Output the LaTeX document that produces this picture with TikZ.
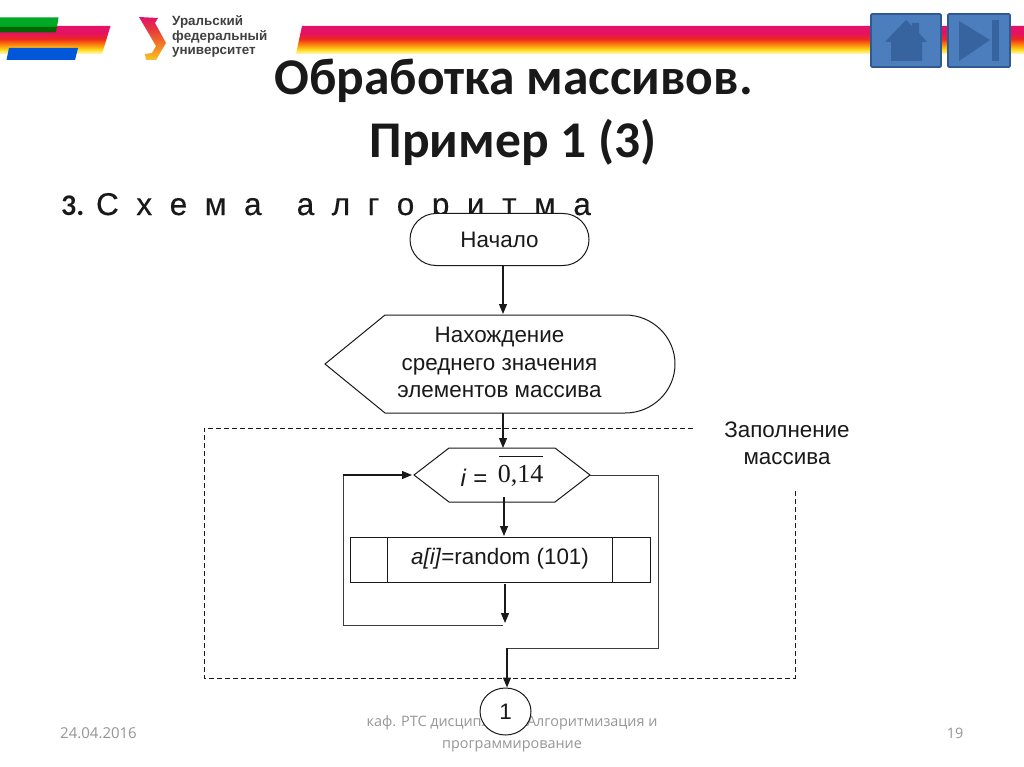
\documentclass[tikz,border=0pt]{standalone}
\usepackage{fontspec}
\setmainfont{Liberation Sans}
\newfontfamily\carl{Carlito}
\newfontfamily\opens{Open Sans}
\newfontfamily\tms{Liberation Serif}
\newfontfamily\spaced[LetterSpace=28,FakeBold=0.3]{Liberation Sans}
\usetikzlibrary{arrows.meta,shapes.misc,shapes.geometric,calc}
\definecolor{lnk}{RGB}{25,25,25}
\definecolor{lnkb}{RGB}{60,60,60}
\definecolor{btn}{RGB}{76,125,189}
\definecolor{btnd}{RGB}{46,90,145}
\definecolor{btni}{RGB}{55,100,158}
\definecolor{foot}{RGB}{150,150,150}
\pgfdeclareverticalshading{ufstripe}{100bp}{
 rgb(0bp)=(1,1,1);
 rgb(25bp)=(1,0.98,0.80);
 rgb(33bp)=(1,0.85,0.10);
 rgb(44bp)=(0.98,0.45,0.05);
 rgb(52bp)=(0.93,0.16,0.12);
 rgb(62bp)=(0.90,0.07,0.38);
 rgb(75bp)=(0.90,0.07,0.42);
 rgb(100bp)=(0.90,0.07,0.42)}
\pgfdeclareverticalshading{uflogo}{100bp}{
 rgb(0bp)=(0.97,0.78,0.15);
 rgb(25bp)=(0.97,0.78,0.15);
 rgb(45bp)=(0.95,0.45,0.15);
 rgb(62bp)=(0.90,0.20,0.25);
 rgb(75bp)=(0.88,0.07,0.42);
 rgb(100bp)=(0.88,0.07,0.42)}
\tikzset{
 x=1pt,y=-1pt,
 flow/.style={draw=lnk,line width=1pt,fill=white},
 link/.style={draw=lnkb,line width=1pt},
 arr/.style={draw=lnk,line width=1.2pt,-{Triangle[length=10pt,width=8pt]}},
 dash line/.style={draw=lnk,line width=.9pt,dash pattern=on 5pt off 3pt},
 ftxt/.style={font=\fontsize{22.4}{27.5}\selectfont,align=center,text=lnk,inner sep=0pt},
 foottxt/.style={font=\opens\fontsize{14.4}{22}\selectfont,text=foot,align=center,inner sep=0pt},
 btnbox/.style={draw=btnd,line width=1.6pt,fill=btn,rounded corners=1pt},
 icon/.style={fill=btni,draw=none},
 titletxt/.style={font=\carl\bfseries\fontsize{51.5}{0}\selectfont,text=black!90,inner sep=0pt},
}
\begin{document}
\begin{tikzpicture}
\useasboundingbox (0,0) rectangle (1024,767);
\fill[white] (0,0) rectangle (1024,767);
% colour stripes
\shade[shading=ufstripe] (0,26) -- (110.5,26) -- (102,54) -- (0,54) -- cycle;
\shade[shading=ufstripe] (302,26) -- (1024,26) -- (1024,54) -- (296,54) -- cycle;
\fill[green!60!black!85!cyan] (0,17.5) -- (58.5,17.5) -- (57,27) -- (0,27) -- cycle;
\fill[green!40!black] (0,27) -- (57,27) -- (55.5,32.5) -- (0,32.5) -- cycle;
\fill[blue!60!cyan!85!black] (9,48) -- (78,48) -- (75,60) -- (6.5,60) -- cycle;
% logo
\shade[shading=uflogo] (139,17) -- (158,18) -- (155,23) -- (166,43) -- (156,60) -- (146,60) -- (145,54) -- (152,53) -- (156,46) -- cycle;
\node[anchor=west,font=\fontsize{13.4}{14.5}\selectfont\bfseries,text=black!75,align=left,inner sep=0pt] (logotext) at (172,36.5) {Уральский\\федеральный\\университет};
% buttons
\draw[btnbox] (871,14) rectangle (941,67);
\draw[btnbox] (948,14) rectangle (1010,67);
\fill[icon] (885,42) -- (906,20) -- (912,26) -- (912,23) -- (919,23) -- (919,33) -- (927,42) -- (922,42) -- (922,61) -- (891,61) -- (891,42) -- cycle;
\fill[icon] (959,21) -- (990,40) -- (959,61) -- cycle;
\fill[icon] (992,20) rectangle (999,61);
% title
\node[titletxt] (title1) at (513.5,81) {Обработка массивов.};
\node[titletxt] (title2) at (513,142) {Пример 1 (3)};
% subtitle
\node[anchor=base west,font=\fontsize{31.5}{0}\selectfont,text=black!90,inner sep=0pt] (sub) at (61,215) {{\carl\bfseries\fontsize{30}{0}\selectfont 3.} {\spaced С х е м а \ а л г о р и т м а}};
% footer
\node[foottxt,anchor=west,font=\opens\fontsize{15}{22}\selectfont] (date) at (60,733.5) {24.04.2016};
\node[foottxt] (page) at (955,733.5) {19};
\node[foottxt] (dept) at (512,734) {каф. РТС дисциплина «Алгоритмизация и\\программирование};
% flowchart shapes
\node[flow,rounded rectangle,minimum width=179pt,minimum height=52pt,inner sep=0pt,ftxt] (start) at (499.5,239.5) {Начало};
\draw[flow] (325,364) -- (385,315) -- (625,315) arc[start angle=-90,end angle=90,x radius=50,y radius=49] -- (385,413) -- cycle;
\node[ftxt] (disp) at (499.5,362.5) {Нахождение\\среднего значения\\элементов массива};
\coordinate (dispT) at (503,314);
\coordinate (dispB) at (503,413);
% dashed frame
\coordinate (d1) at (693,428);
\coordinate (d2) at (204,428);
\coordinate (d3) at (204,678);
\coordinate (d4) at (795,678);
\coordinate (d5) at (795,490);
\draw[dash line] (d1) -- (d2) -- (d3) -- (d4) -- (d5);
\node[ftxt] (fill) at (787,443.5) {Заполнение\\массива};
% hexagon
\coordinate (hL) at (414,475);
\coordinate (hR) at (590,475);
\coordinate (hT) at (503,448);
\draw[flow] (hL) -- (449,448) -- (555,448) -- (hR) -- (555,502) -- (449,502) -- cycle;
\node[anchor=base,font=\fontsize{24}{0}\selectfont,inner sep=0pt,text=lnk] (loopi) at (474,486) {\textit{i} =};
\node[anchor=base,font=\tms\fontsize{26}{0}\selectfont,inner sep=0pt,text=lnk] (range) at (520.5,482.5) {0,14};
\draw[lnk,line width=1pt] (499,456) -- (543,456);
\coordinate (hB) at (504,497);
% subroutine
\node[flow,rectangle,minimum width=300pt,minimum height=45pt,inner sep=0pt] (proc) at (500,559.5) {};
\draw[flow,fill=none] (387.5,537) -- (387.5,582);
\draw[flow,fill=none] (612.5,537) -- (612.5,582);
\node[ftxt] (proctxt) at (500,558.5) {\textit{a[i]}=random (101)};
% connector circle
\node[flow,ellipse,minimum width=51pt,minimum height=47pt,inner sep=0pt,ftxt] (conn) at (505.5,711.5) {1};
% connectors
\draw[arr] (503,265) -- (dispT);
\draw[arr] (dispB) -- (hT);
\coordinate (procT) at (504,536);
\draw[arr] (hB) -- (procT);
\coordinate (procB) at (505,584);
\coordinate (loopE) at (505,623);
\draw[arr] (procB) -- (loopE);
\coordinate (lp1) at (503,625);
\coordinate (lp2) at (343,625);
\coordinate (lp3) at (343,475);
\draw[link] (lp1) -- (lp2) -- (lp3);
\draw[arr,shorten >=2pt] (lp3) -- (hL);
\coordinate (ex1) at (658,475);
\coordinate (ex2) at (658,648);
\coordinate (ex3) at (507,648);
\draw[link] (hR) -- (ex1) -- (ex2) -- (ex3);
\draw[arr] (ex3) -- (ex3 |- conn.north);
\end{tikzpicture}
\end{document}
